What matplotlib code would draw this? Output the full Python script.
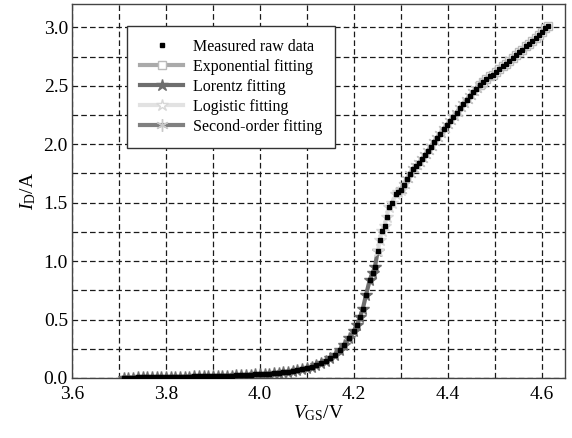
import matplotlib
matplotlib.use("Agg")
import matplotlib.pyplot as plt
from matplotlib.ticker import MultipleLocator, FormatStrFormatter
import numpy as np

plt.rcParams['font.family'] = ['Liberation Serif', 'DejaVu Serif']
plt.rcParams['mathtext.fontset'] = 'custom'
plt.rcParams['mathtext.rm'] = 'Liberation Serif'
plt.rcParams['mathtext.it'] = 'Liberation Serif:italic'

# measured gate voltage (V) and drain current (A)
vgs = [3.71, 3.72, 3.73, 3.74, 3.75, 3.76, 3.77, 3.78, 3.79, 3.80,
       3.81, 3.82, 3.83, 3.84, 3.85, 3.86, 3.87, 3.88, 3.89, 3.90,
       3.91, 3.92, 3.93, 3.94, 3.95, 3.96, 3.97, 3.98, 3.99, 4.00,
       4.01, 4.02, 4.03, 4.04, 4.05, 4.06, 4.07, 4.08, 4.09, 4.10,
       4.11, 4.12, 4.13, 4.14, 4.15, 4.16, 4.17, 4.18, 4.19, 4.20,
       4.207, 4.213, 4.219, 4.226, 4.234, 4.240, 4.245, 4.251, 4.256, 4.260,
       4.266, 4.270, 4.275, 4.282, 4.290, 4.295, 4.300, 4.307, 4.313, 4.320,
       4.326, 4.332, 4.338, 4.345, 4.351, 4.358, 4.364, 4.371, 4.377, 4.384,
       4.391, 4.398, 4.405, 4.412, 4.419, 4.426, 4.433, 4.440, 4.447, 4.454,
       4.461, 4.468, 4.475, 4.482, 4.489, 4.496, 4.503, 4.510, 4.517, 4.524,
       4.531, 4.538, 4.545, 4.552, 4.559, 4.566, 4.573, 4.580, 4.587, 4.594,
       4.601, 4.608, 4.614]
i_d = [0.003, 0.004, 0.004, 0.005, 0.005, 0.006, 0.006, 0.007, 0.008, 0.008,
       0.009, 0.010, 0.010, 0.011, 0.012, 0.013, 0.014, 0.015, 0.016, 0.017,
       0.018, 0.019, 0.020, 0.021, 0.023, 0.024, 0.026, 0.028, 0.030, 0.032,
       0.035, 0.038, 0.041, 0.045, 0.050, 0.055, 0.061, 0.068, 0.076, 0.086,
       0.097, 0.110, 0.125, 0.145, 0.170, 0.200, 0.240, 0.285, 0.340, 0.400,
       0.450, 0.520, 0.590, 0.710, 0.840, 0.900, 0.950, 1.090, 1.180, 1.260,
       1.300, 1.380, 1.460, 1.500, 1.570, 1.590, 1.610, 1.655, 1.700, 1.745,
       1.790, 1.810, 1.835, 1.870, 1.905, 1.945, 1.980, 2.020, 2.055, 2.090,
       2.130, 2.165, 2.200, 2.235, 2.270, 2.310, 2.345, 2.380, 2.415, 2.445,
       2.475, 2.510, 2.535, 2.560, 2.580, 2.595, 2.620, 2.645, 2.670, 2.690,
       2.715, 2.740, 2.765, 2.790, 2.810, 2.840, 2.860, 2.885, 2.910, 2.935,
       2.960, 2.990, 3.010]

# voltage ranges covered by each fitted segment
lorentz_range = (3.70, 4.251)
logistic_range = (4.251, 4.300)
second_range = (4.300, 4.468)
expo_range = (4.468, 4.62)

labels = ['Measured raw data', 'Exponential fitting', 'Lorentz fitting',
          'Logistic fitting', 'Second-order fitting']

v = np.array(vgs)
cur = np.array(i_d)

def seg(rng):
    m = (v >= rng[0]) & (v <= rng[1])
    return v[m], cur[m]

fig = plt.figure(figsize=(5.72, 4.38), dpi=100)
ax = fig.add_axes([0.126, 0.137, 0.862, 0.854])

asterisk = (6, 2, 0)
x, y = seg(expo_range)
ax.plot(x, y, '-', color='#aaaaaa', lw=3, marker='s', ms=6,
        mfc='white', mec='#bbbbbb', mew=1, zorder=2)
x, y = seg(lorentz_range)
ax.plot(x, y, '-', color='#6e6e6e', lw=3, marker='*', ms=8.5, zorder=2)
x, y = seg(logistic_range)
ax.plot(x, y, '-', color='#e2e2e2', lw=3, marker='*', ms=9,
        mfc='white', mec='#d8d8d8', zorder=2)
x, y = seg(second_range)
ax.plot(x, y, '-', color='#8a8a8a', lw=3, marker=asterisk, ms=9,
        mec='#c4c4c4', mew=1, zorder=2)
ax.plot(vgs, i_d, 's', color='black', ms=3, zorder=3)

ax.set_xlim(3.6, 4.65)
ax.set_ylim(0, 3.2)
ax.xaxis.set_major_locator(MultipleLocator(0.2))
ax.xaxis.set_minor_locator(MultipleLocator(0.1))
ax.yaxis.set_major_locator(MultipleLocator(0.5))
ax.yaxis.set_minor_locator(MultipleLocator(0.25))
ax.xaxis.set_major_formatter(FormatStrFormatter('%.1f'))
ax.yaxis.set_major_formatter(FormatStrFormatter('%.1f'))
ax.tick_params(which='both', direction='in', length=0, labelsize=14)
ax.tick_params(axis='x', pad=6)
ax.tick_params(axis='y', pad=3)
ax.grid(which='both', color='#1a1a1a', lw=0.9, linestyle=(0, (4.5, 2.5)))
for s in ax.spines.values():
    s.set_color('#444444')
    s.set_linewidth(1)

ax.set_xlabel(r'$V_{\mathrm{GS}}$/V', fontsize=14, labelpad=0)
ax.set_ylabel(r'$I_{\mathrm{D}}$/A', fontsize=14, labelpad=4)

# legend proxies
h_raw, = ax.plot([], [], 's', color='black', ms=3)
h_exp, = ax.plot([], [], '-', color='#aaaaaa', lw=3, marker='s', ms=6,
                 mfc='white', mec='#bbbbbb')
h_lor, = ax.plot([], [], '-', color='#6e6e6e', lw=3, marker='*', ms=9)
h_log, = ax.plot([], [], '-', color='#e2e2e2', lw=3, marker='*', ms=9,
                 mfc='white', mec='#d8d8d8')
h_sec, = ax.plot([], [], '-', color='#808080', lw=3, marker=asterisk, ms=9,
                 mec='#c8c8c8', mew=1)
leg = ax.legend([h_raw, h_exp, h_lor, h_log, h_sec], labels,
                loc='upper left', bbox_to_anchor=(0.112, 0.941),
                borderaxespad=0, fontsize=11.5, labelspacing=0.25,
                handlelength=2.7, handletextpad=0.6, borderpad=0.8,
                fancybox=False, framealpha=1, edgecolor='#333333')
leg.get_frame().set_linewidth(1)

fig.savefig('out.png', dpi=100)
